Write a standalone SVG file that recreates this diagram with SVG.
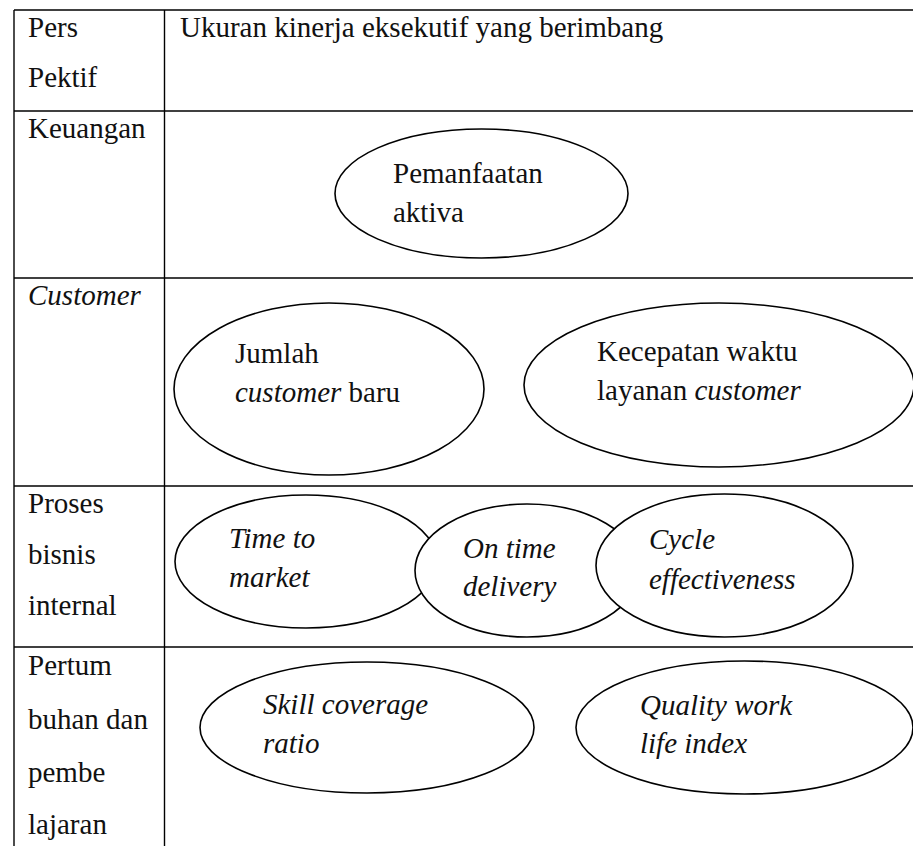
<svg xmlns="http://www.w3.org/2000/svg" width="913" height="846" viewBox="0 0 913 846">
  <style>
    text { font-size: 29px; fill: #111; }
    .it { font-style: italic; }
    .grid line { stroke: #000; stroke-width: 1.4; }
    .node ellipse { fill: #fff; stroke: #000; stroke-width: 1.6; }
  </style>
  <rect width="913" height="846" fill="#fff"/>

  <g font-family="Liberation Serif, Tinos, Times New Roman, DejaVu Serif, serif">
  <!-- table rules -->
  <g id="table" class="grid">
    <line x1="14" y1="10" x2="913" y2="10"/>
    <line x1="14" y1="10" x2="14" y2="846"/>
    <line x1="164.5" y1="10" x2="164.5" y2="846"/>
    <line x1="14" y1="111" x2="913" y2="111"/>
    <line x1="14" y1="278" x2="913" y2="278"/>
    <line x1="14" y1="486" x2="913" y2="486"/>
    <line x1="14" y1="647" x2="913" y2="647"/>
  </g>

  <!-- header row -->
  <g id="header">
    <text x="28" y="37">Pers</text>
    <text x="28" y="87">Pektif</text>
    <text x="180" y="37">Ukuran kinerja eksekutif yang berimbang</text>
  </g>

  <!-- perspective labels -->
  <g id="labels">
    <text x="28" y="138">Keuangan</text>
    <text x="28" y="305" class="it">Customer</text>
    <text x="28" y="513">Proses</text>
    <text x="28" y="564">bisnis</text>
    <text x="28" y="615">internal</text>
    <text x="28" y="675">Pertum</text>
    <text x="28" y="729">buhan dan</text>
    <text x="28" y="782">pembe</text>
    <text x="28" y="834">lajaran</text>
  </g>

  <!-- Keuangan -->
  <g id="pemanfaatan-aktiva" class="node">
    <ellipse cx="481.5" cy="193.5" rx="146.5" ry="64.5"/>
    <text x="393" y="183">Pemanfaatan</text>
    <text x="393" y="222">aktiva</text>
  </g>

  <!-- Customer -->
  <g id="jumlah-customer-baru" class="node">
    <ellipse cx="329" cy="389" rx="155" ry="86"/>
    <text x="235" y="363">Jumlah</text>
    <text x="235" y="402"><tspan class="it">customer</tspan> baru</text>
  </g>
  <g id="kecepatan-waktu-layanan" class="node">
    <ellipse cx="719" cy="385" rx="195" ry="82"/>
    <text x="597" y="361">Kecepatan waktu</text>
    <text x="597" y="400">layanan <tspan class="it">customer</tspan></text>
  </g>

  <!-- Proses bisnis internal (later ellipses overlap earlier ones) -->
  <g id="time-to-market" class="node">
    <ellipse cx="306" cy="561.5" rx="131" ry="66.5"/>
    <text x="229" y="548" class="it">Time to</text>
    <text x="229" y="587" class="it">market</text>
  </g>
  <g id="on-time-delivery" class="node">
    <ellipse cx="527" cy="570.5" rx="112" ry="66.5"/>
    <text x="463" y="558" class="it">On time</text>
    <text x="463" y="596" class="it">delivery</text>
  </g>
  <g id="cycle-effectiveness" class="node">
    <ellipse cx="724.5" cy="565.5" rx="128.5" ry="71.5"/>
    <text x="649" y="549" class="it">Cycle</text>
    <text x="649" y="589" class="it">effectiveness</text>
  </g>

  <!-- Pertumbuhan dan pembelajaran -->
  <g id="skill-coverage-ratio" class="node">
    <ellipse cx="367" cy="727.5" rx="167" ry="65.5"/>
    <text x="263" y="714" class="it">Skill coverage</text>
    <text x="263" y="753" class="it">ratio</text>
  </g>
  <g id="quality-work-life-index" class="node">
    <ellipse cx="744.5" cy="727.5" rx="168.5" ry="66.5"/>
    <text x="640" y="715" class="it">Quality work</text>
    <text x="640" y="753" class="it">life index</text>
  </g>
  </g>
</svg>
